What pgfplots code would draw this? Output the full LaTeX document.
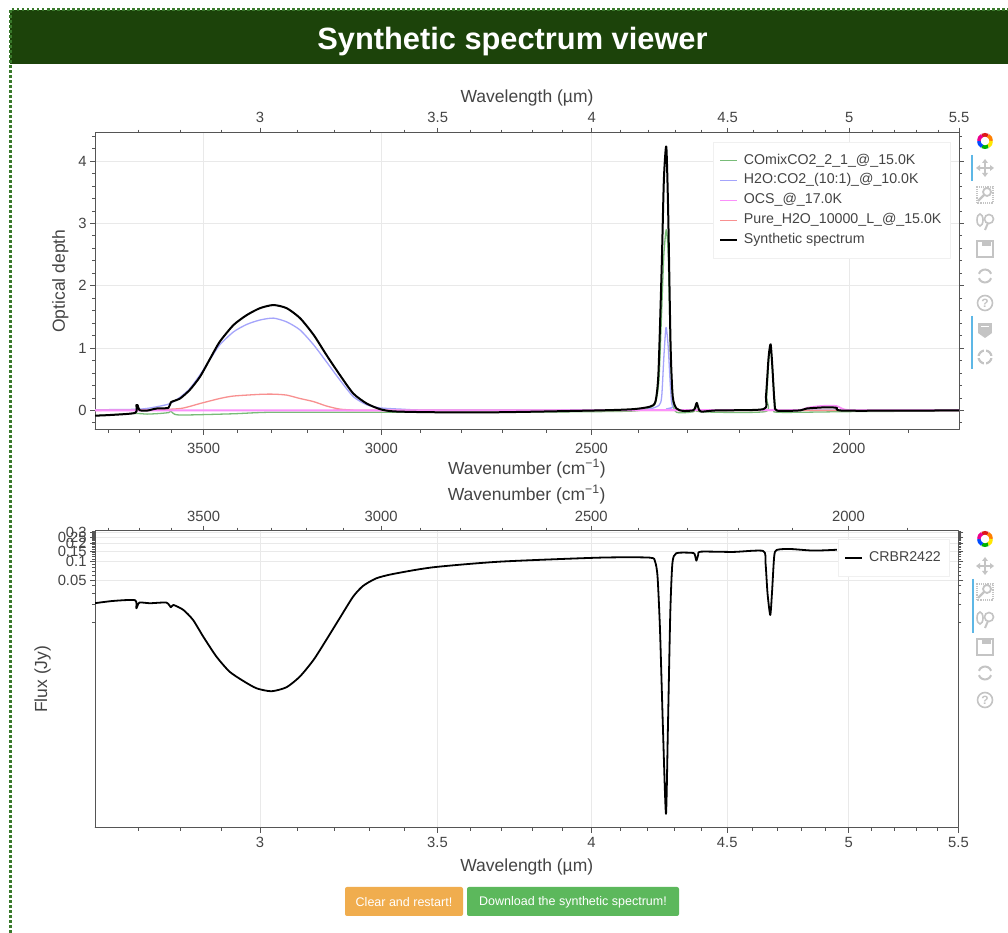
\documentclass[border=0pt]{standalone}
\usepackage{pgfplots}
\pgfplotsset{compat=1.18}
\usepackage{fontspec}
\setmainfont{Liberation Sans}
\definecolor{hdr}{HTML}{1C430A}
\definecolor{dots}{HTML}{3A7A2C}
\definecolor{txt}{HTML}{444444}
\definecolor{axl}{HTML}{555555}
\definecolor{grd}{HTML}{E9E9E9}
\definecolor{icn}{HTML}{C4C4C4}
\definecolor{tbar}{HTML}{5DB7E6}
\definecolor{cgreen}{HTML}{78BC78}
\definecolor{cblue}{HTML}{A4A4FB}
\definecolor{cmag}{HTML}{FB90FB}
\definecolor{cred}{HTML}{F89090}
\newcommand{\tickf}{\fontsize{14.8}{17}\selectfont}
\newcommand{\labf}{\fontsize{17.5}{20}\selectfont}
\newcommand{\legf}{\fontsize{14.2}{16}\selectfont}
\tikzset{iat/.style={shift={(985pt,933pt-#1pt)}}}
\newcommand{\iconwheel}[1]{\begin{scope}[iat={#1},line width=3.6pt]
 \draw[red!85!black!90] (120:6.2pt) arc (120:60:6.2pt);
 \draw[orange] (60:6.2pt) arc (60:0:6.2pt);
 \draw[yellow!90!orange] (0:6.2pt) arc (0:-60:6.2pt);
 \draw[green!70!black] (-60:6.2pt) arc (-60:-120:6.2pt);
 \draw[blue!70!cyan] (-120:6.2pt) arc (-120:-180:6.2pt);
 \draw[magenta] (180:6.2pt) arc (180:120:6.2pt);
 \end{scope}}
\newcommand{\iconmove}[1]{\begin{scope}[iat={#1},icn,line width=2pt]
 \draw (-7pt,0)--(7pt,0); \draw (0,-7pt)--(0,7pt);
 \fill (-9pt,0)--(-5pt,3pt)--(-5pt,-3pt)--cycle; \fill (9pt,0)--(5pt,3pt)--(5pt,-3pt)--cycle;
 \fill (0,-9pt)--(3pt,-5pt)--(-3pt,-5pt)--cycle; \fill (0,9pt)--(3pt,5pt)--(-3pt,5pt)--cycle;
 \end{scope}}
\newcommand{\iconbox}[1]{\begin{scope}[iat={#1},icn,line width=1.2pt]
 \draw[densely dotted] (-8pt,-8pt) rectangle (8pt,8pt);
 \draw[line width=1.8pt] (2pt,3pt) circle (4pt); \draw[line width=2.2pt] (-1pt,0)--(-7pt,-6pt);
 \end{scope}}
\newcommand{\iconwz}[1]{\begin{scope}[iat={#1},icn,line width=1.6pt]
 \draw (-5pt,2pt) ellipse (3pt and 6pt);
 \draw (4pt,3pt) circle (4.5pt); \draw[line width=2pt] (3pt,-1pt)--(0pt,-8pt);
 \end{scope}}
\newcommand{\iconsave}[1]{\begin{scope}[iat={#1},icn,line width=1.6pt]
 \draw (-8pt,-8pt) rectangle (8pt,8pt); \fill (-3pt,3pt) rectangle (6pt,8pt);
 \end{scope}}
\newcommand{\iconreset}[1]{\begin{scope}[iat={#1},icn,line width=2pt]
 \draw (20:6.5pt) arc (20:160:6.5pt); \draw (200:6.5pt) arc (200:340:6.5pt);
 \end{scope}}
\newcommand{\iconhelp}[1]{\begin{scope}[iat={#1},icn,line width=1.6pt]
 \draw (0,0) circle (7.5pt);
 \node[text=icn,inner sep=0pt,font=\fontsize{12}{12}\selectfont\bfseries] at (0,0) {?};
 \end{scope}}
\newcommand{\iconhover}[1]{\begin{scope}[iat={#1},icn]
 \fill (-7pt,7pt) rectangle (7pt,-3pt); \fill (-7pt,-3pt)--(0,-8pt)--(7pt,-3pt)--cycle;
 \fill[white] (-4pt,4pt) rectangle (4pt,2.5pt);
 \end{scope}}
\newcommand{\iconcross}[1]{\begin{scope}[iat={#1},icn]
 \draw[line width=2.2pt] (0,0) circle (6.5pt);
 \draw[white,line width=1.4pt] (-9pt,0)--(-4pt,0) (9pt,0)--(4pt,0) (0,9pt)--(0,4pt) (0,-9pt)--(0,-4pt);
 \end{scope}}
\pgfplotsset{
 mybase/.style={
  scale only axis, tick align=outside,
  major tick length=5pt, minor tick length=3pt,
  tick style={color=axl,line width=0.8pt},
  minor tick style={color=axl,line width=0.7pt},
  axis line style={color=axl,line width=1pt},
  tick label style={font=\tickf,text=txt},
  label style={font=\labf,text=txt},
  major grid style={color=grd,line width=0.8pt},
 },
 mywl/.style={xmin=2.6,xmax=5.5,
  xtick={3,3.5,4,4.5,5,5.5},xticklabels={3,3.5,4,4.5,5,5.5},
  minor xtick={2.7,2.8,2.9,3.1,3.2,3.3,3.4,3.6,3.7,3.8,3.9,4.1,4.2,4.3,4.4,4.6,4.7,4.8,4.9,5.1,5.2,5.3,5.4}},
 mywn/.style={x dir=reverse,xmin=1818.18,xmax=3846.15,
  xtick={2000,2500,3000,3500},xticklabels={2000,2500,3000,3500},
  minor xtick={1900,2100,2200,2300,2400,2600,2700,2800,2900,3100,3200,3300,3400,3600,3700,3800}},
 mylege/.style={legend cell align=left,
  legend image code/.code={\draw[##1] (0pt,0pt)--(17pt,0pt);},
  legend style={font=\legf,text=txt,draw=black!6,fill=white,line width=0.8pt,
   row sep=4.7pt,inner xsep=6pt,inner ysep=11pt,
   /tikz/column 1/.style={column sep=3pt},
   nodes={text height=10pt,text depth=3.2pt,inner ysep=1pt,inner xsep=2.8pt}}},
}
\begin{document}
\begin{tikzpicture}
\path[use as bounding box,fill=white] (0,0) rectangle (1008pt,933pt);
% page frame
\fill[hdr] (10pt,869pt) rectangle (1008pt,923pt);
\draw[dots,line width=3pt,dash pattern=on 2.5pt off 2.5pt] (10pt,0pt)--(10pt,923pt)--(1008pt,923pt);
\node[text=white,font=\fontsize{30.8}{34}\selectfont\bfseries] at (512.5pt,891pt) {Synthetic spectrum viewer};

% ---------- top panel: wavenumber ticks
\begin{axis}[xmode=log,mybase,mywn,at={(95pt,503.3pt)},anchor=south west,width=864pt,height=297pt,
 ymin=-0.31,ymax=4.455,hide y axis,xmajorgrids,
 xtick pos=left,xticklabel pos=left,
 xlabel={Wavenumber (cm\textsuperscript{−1})},
 xticklabel style={yshift=-5pt},xlabel style={yshift=1pt}]
\end{axis}
% ---------- top panel: spectra and wavelength ticks
\begin{axis}[xmode=log,mybase,mywl,mylege,at={(95pt,503.3pt)},anchor=south west,width=864pt,height=297pt,
 ymin=-0.31,ymax=4.455,ytick={0,1,2,3,4},yticklabels={0,1,2,3,4},
 minor ytick={-0.2,0.2,0.4,0.6,0.8,1.2,1.4,1.6,1.8,2.2,2.4,2.6,2.8,3.2,3.4,3.6,3.8,4.2,4.4},
 ymajorgrids,xtick pos=right,xticklabel pos=right,ytick pos=both,yticklabel pos=left,
 xlabel={Wavelength (µm)},ylabel={Optical depth},
 xticklabel style={yshift=1.5pt},xlabel style={yshift=-0.5pt},
 ylabel style={yshift=3pt},
 legend style={at={(0.7149,0.9697)},anchor=north west},
 line join=round]
\addlegendimage{cgreen,line width=1.5pt}
\addlegendentry{COmixCO2\_2\_1\_@\_15.0K}
\addlegendimage{cblue,line width=1.5pt}
\addlegendentry{H2O:CO2\_(10:1)\_@\_10.0K}
\addlegendimage{cmag,line width=1.6pt}
\addlegendentry{OCS\_@\_17.0K}
\addlegendimage{cred,line width=1.5pt}
\addlegendentry{Pure\_H2O\_10000\_L\_@\_15.0K}
\addlegendimage{black,line width=2pt}
\addlegendentry{Synthetic spectrum}
\addplot[forget plot,cgreen,line width=1.3pt,smooth,tension=0.4] coordinates {
(2.6,-0.085)(2.69,-0.05)(2.72,-0.06)(2.75,-0.05)(2.772,-0.035)(2.777,-0.01)(2.782,-0.045)(2.80,-0.075)(2.93,-0.055)(3.03,-0.03)(3.29,-0.03)(3.69,-0.03)(4.03,-0.02)(4.15,-0.01)(4.20,0.03)(4.227,0.12)(4.24,0.5)(4.25,1.6)(4.258,2.5)(4.267,2.9)(4.274,2.5)(4.283,0.9)(4.291,0.15)(4.305,-0.03)(4.37,-0.02)(4.381,0.08)(4.39,-0.02)(4.648,-0.02)(4.655,0.2)(4.663,0.8)(4.671,1.04)(4.678,0.65)(4.69,0.05)(4.70,-0.03)(5.0,-0.02)(5.5,-0.01)};
\addplot[forget plot,cblue,line width=1.3pt,smooth,tension=0.4] coordinates {
(2.6,0.01)(2.68,0.015)(2.719,0.03)(2.771,0.10)(2.799,0.21)(2.823,0.35)(2.848,0.57)(2.873,0.82)(2.897,1.05)(2.932,1.26)(2.966,1.38)(3.0,1.45)(3.035,1.48)(3.07,1.42)(3.106,1.29)(3.143,1.05)(3.178,0.78)(3.215,0.49)(3.253,0.22)(3.291,0.09)(3.329,0.04)(3.39,0.02)(3.486,0.005)(4.1,0.01)(4.2,0.02)(4.24,0.08)(4.25,0.22)(4.258,0.86)(4.266,1.33)(4.274,1.02)(4.283,0.33)(4.291,0.06)(4.33,0.01)(5.5,0.005)};
\addplot[forget plot,cred,line width=1.3pt,smooth,tension=0.4] coordinates {
(2.6,0.0)(2.72,0.005)(2.80,0.03)(2.848,0.11)(2.897,0.19)(2.932,0.23)(3.0,0.257)(3.035,0.26)(3.07,0.245)(3.106,0.19)(3.143,0.14)(3.178,0.07)(3.215,0.02)(3.253,0.005)(3.29,0.0)(5.5,0.0)};
\addplot[forget plot,cmag,line width=1.8pt,smooth,tension=0.4] coordinates {
(2.6,0.0)(3.5,0.0)(4.5,0.005)(4.78,0.005)(4.82,0.04)(4.88,0.07)(4.945,0.07)(4.985,0.01)(5.1,0.0)(5.5,0.0)};
\addplot[forget plot,black,line width=2pt,smooth,tension=0.4] coordinates {
(2.599,-0.085)(2.633,-0.075)(2.692,-0.04)(2.695,0.085)(2.698,0.085)(2.702,0.005)(2.719,-0.005)(2.743,0.03)(2.771,0.04)(2.777,0.13)(2.799,0.19)(2.823,0.33)(2.848,0.54)(2.873,0.83)(2.897,1.10)(2.932,1.37)(2.966,1.53)(3.0,1.64)(3.035,1.69)(3.07,1.64)(3.106,1.48)(3.143,1.21)(3.178,0.89)(3.215,0.57)(3.253,0.27)(3.291,0.11)(3.329,0.02)(3.368,-0.016)(3.486,-0.03)(3.695,-0.03)(4.03,0.0)(4.148,0.02)(4.207,0.06)(4.227,0.14)(4.238,0.59)(4.25,2.3)(4.258,3.7)(4.267,4.23)(4.274,3.16)(4.283,1.02)(4.291,0.22)(4.305,0.03)(4.33,-0.01)(4.368,0.0)(4.374,0.03)(4.381,0.12)(4.388,0.03)(4.398,-0.02)(4.458,0.0)(4.642,0.02)(4.652,0.22)(4.663,0.86)(4.671,1.06)(4.678,0.70)(4.687,0.11)(4.697,-0.005)(4.793,0.0)(4.82,0.03)(4.904,0.05)(4.947,0.04)(4.982,-0.005)(5.5,0.0)};
\end{axis}

% ---------- bottom panel: wavenumber ticks
\begin{axis}[xmode=log,ymode=log,mybase,mywn,at={(95pt,105.3pt)},anchor=south west,width=863.5pt,height=297pt,
 ymin=4.2e-6,ymax=0.323,hide y axis,
 xtick pos=right,xticklabel pos=right,
 xlabel={Wavenumber (cm\textsuperscript{−1})},
 xticklabel style={yshift=1pt},xlabel style={yshift=0pt}]
\end{axis}
% ---------- bottom panel: flux
\begin{axis}[xmode=log,ymode=log,mybase,mywl,mylege,at={(95pt,105.3pt)},anchor=south west,width=863.5pt,height=297pt,
 ymin=4.2e-6,ymax=0.323,
 ytick={0.05,0.1,0.15,0.2,0.25,0.3},yticklabels={0.05,0.1,0.15,0.2,0.25,0.3},
 minor ytick={0.01,0.02,0.03,0.04,0.06,0.07,0.08,0.09,0.11,0.12,0.13,0.14,0.16,0.17,0.18,0.19,0.21,0.22,0.23,0.24,0.26,0.27,0.28,0.29,0.31,0.32},
 ymajorgrids,xmajorgrids,xtick pos=left,xticklabel pos=left,ytick pos=both,yticklabel pos=left,
 xlabel={Wavelength (µm)},ylabel={Flux (Jy)},
 xticklabel style={yshift=-1pt},xlabel style={yshift=-4pt},
 ylabel style={yshift=0pt},
 legend style={at={(0.8605,0.973)},anchor=north west},
 line join=round]
\addplot[black,line width=1.8pt,smooth,tension=0.4] coordinates {
(2.599,0.0207)(2.642,0.0226)(2.692,0.0232)(2.695,0.0171)(2.702,0.0212)(2.727,0.0207)(2.766,0.0212)(2.777,0.0178)(2.783,0.0194)(2.807,0.0161)(2.831,0.0110)(2.856,0.00585)(2.889,0.00274)(2.922,0.00155)(2.957,0.00109)(2.991,0.000826)(3.03,0.000738)(3.07,0.000859)(3.106,0.00129)(3.143,0.00242)(3.178,0.00515)(3.215,0.0117)(3.253,0.0266)(3.281,0.0399)(3.319,0.0532)(3.368,0.0628)(3.486,0.0807)(3.695,0.100)(4.03,0.1165)(4.207,0.1165)(4.227,0.1)(4.236,0.0567)(4.245,0.00754)(4.256,0.00017)(4.267,0.0000071)(4.274,0.00017)(4.283,0.01416)(4.291,0.094)(4.305,0.1374)(4.36,0.14)(4.374,0.135)(4.381,0.104)(4.388,0.129)(4.398,0.146)(4.524,0.1445)(4.642,0.15)(4.652,0.094)(4.66,0.0302)(4.671,0.01327)(4.678,0.0302)(4.687,0.121)(4.697,0.1556)(4.75,0.1618)(4.849,0.152)(4.949,0.157)};
\addlegendentry{CRBR2422}
\end{axis}

% ---------- toolbars
\draw[tbar,line width=1.6pt] (972pt,778pt)--(972pt,752pt);
\draw[tbar,line width=1.6pt] (972pt,617pt)--(972pt,564pt);
\draw[tbar,line width=1.6pt] (973pt,354pt)--(973pt,300pt);
\iconwheel{141}\iconmove{168}\iconbox{195}\iconwz{222}\iconsave{249}\iconreset{276}\iconhelp{303}\iconhover{330}\iconcross{357}
\iconwheel{539}\iconmove{566}\iconbox{592}\iconwz{620}\iconsave{647}\iconreset{673}\iconhelp{700}

% ---------- buttons
\fill[fill={rgb,255:red,240;green,173;blue,78},rounded corners=2pt] (345pt,17pt) rectangle (463pt,46pt);
\fill[fill={rgb,255:red,92;green,184;blue,92},rounded corners=2pt] (467pt,17pt) rectangle (679pt,46pt);
\node[text=white,font=\fontsize{12.5}{14}\selectfont] at (404pt,31pt) {Clear and restart!};
\node[text=white,font=\fontsize{12.5}{14}\selectfont] at (573pt,31pt) {Download the synthetic spectrum!};
\end{tikzpicture}
\end{document}
